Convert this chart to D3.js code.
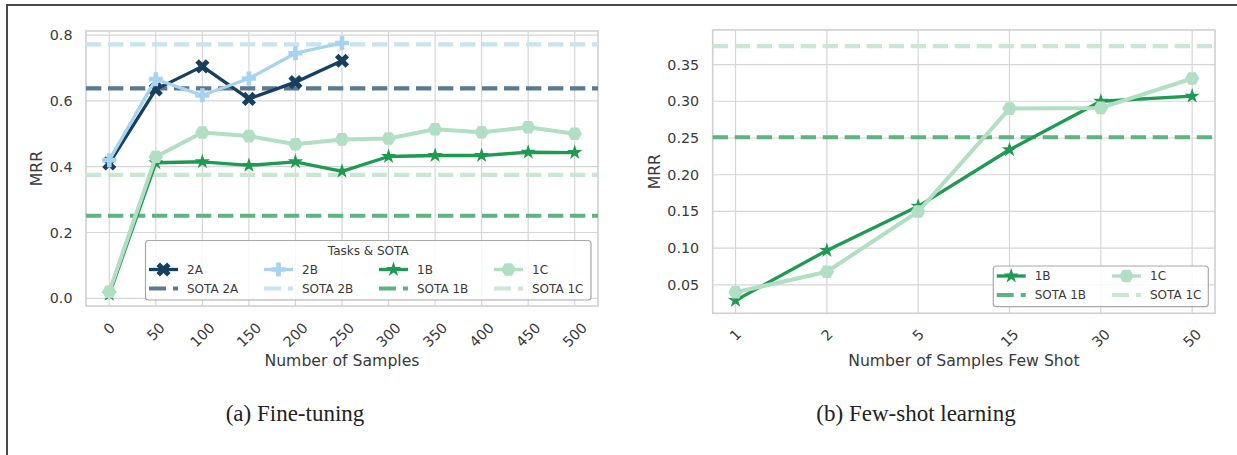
<!DOCTYPE html>
<html>
<head>
<meta charset="utf-8">
<script src="https://cdn.jsdelivr.net/npm/d3@7"></script>
<style>
  body { margin: 0; background: #fff; }
  svg { display: block; font-family: 'DejaVu Sans', sans-serif; }
</style>
</head>
<body>
<svg></svg>
<script>
// fine-tuning panel data
var fineSamples = ['0', '50', '100', '150', '200', '250', '300', '350', '400', '450', '500'];
var ft2A = [0.410, 0.635, 0.705, 0.606, 0.657, 0.722];
var ft2B = [0.420, 0.666, 0.617, 0.668, 0.745, 0.776];
var ft1B = [0.012, 0.412, 0.415, 0.404, 0.415, 0.386, 0.431, 0.434, 0.434, 0.444, 0.443];
var ft1C = [0.020, 0.430, 0.504, 0.493, 0.468, 0.483, 0.486, 0.514, 0.505, 0.520, 0.500];

// few-shot panel data
var fewSamples = ['1', '2', '5', '15', '30', '50'];
var fs1B = [0.029, 0.097, 0.157, 0.234, 0.300, 0.307];
var fs1C = [0.040, 0.068, 0.150, 0.290, 0.291, 0.331];

// state of the art baselines
var sotaTasks = ['2A', '2B', '1B', '1C'];
var sotaValues = [0.638, 0.772, 0.251, 0.375];

var leftTicks = [0.0, 0.2, 0.4, 0.6, 0.8];
var rightTicks = [0.05, 0.10, 0.15, 0.20, 0.25, 0.30, 0.35];

var colors = { '2A': '#173f5f', '2B': '#a8d3f0', '1B': '#1f9a52', '1C': '#b2dfc3' };
var sotaColors = { '2A': '#5b7a91', '2B': '#c8e3f5', '1B': '#5cb483', '1C': '#c8e8d4' };
var markers = { '2A': 'X', '2B': 'P', '1B': 'star', '1C': 'H' };
var markerSize = { '2A': 15, '2B': 14, '1B': 16, '1C': 14.5 };

function sota(task) { return sotaValues[sotaTasks.indexOf(task)]; }

var W = 1237, H = 455;
var svg = d3.select('svg').attr('width', W).attr('height', H);

// figure frame (left + top edge)
svg.append('path')
    .attr('d', 'M7,455 L7,5 L1237,5')
    .attr('fill', 'none')
    .attr('stroke', '#4a4a4a')
    .attr('stroke-width', 2);

function markerPath(type, size) {
  var pts = [];
  var r = size / 2;
  if (type === 'star') {
    for (var i = 0; i < 10; i++) {
      var a = -Math.PI / 2 + i * Math.PI / 5;
      var rr = i % 2 === 0 ? r : r * 0.382;
      pts.push([rr * Math.cos(a), rr * Math.sin(a)]);
    }
  } else if (type === 'H') {
    for (var i = 0; i < 6; i++) {
      var a = i * Math.PI / 3;
      pts.push([r * Math.cos(a), r * Math.sin(a)]);
    }
  } else {
    // filled plus; X is the same shape turned 45deg
    var base = [[-1, -3], [-1, -1], [-3, -1], [-3, 1], [-1, 1], [-1, 3], [1, 3], [1, 1], [3, 1], [3, -1], [1, -1], [1, -3]];
    var rot = type === 'X' ? Math.PI / 4 : 0;
    base.forEach(function(p) {
      var x = p[0] * size / 6, y = p[1] * size / 6;
      pts.push([x * Math.cos(rot) - y * Math.sin(rot), x * Math.sin(rot) + y * Math.cos(rot)]);
    });
  }
  return 'M' + pts.map(function(p) { return p[0].toFixed(2) + ',' + p[1].toFixed(2); }).join('L') + 'Z';
}

function drawPanel(cfg) {
  var g = svg.append('g');
  var x = d3.scalePoint().domain(cfg.cats).range([cfg.x0, cfg.x1]).padding(cfg.pad);
  var y = d3.scaleLinear().domain(cfg.yDomain).range([cfg.y1, cfg.y0]);

  // grid
  g.selectAll('.gx').data(cfg.cats).enter().append('line')
      .attr('x1', d => x(d)).attr('x2', d => x(d))
      .attr('y1', cfg.y0).attr('y2', cfg.y1)
      .attr('stroke', '#d6d6d6').attr('stroke-width', 1.2);
  g.selectAll('.gy').data(cfg.ticks).enter().append('line')
      .attr('x1', cfg.x0).attr('x2', cfg.x1)
      .attr('y1', d => y(d)).attr('y2', d => y(d))
      .attr('stroke', '#d6d6d6').attr('stroke-width', 1.2);

  // frame
  g.append('rect')
      .attr('x', cfg.x0).attr('y', cfg.y0)
      .attr('width', cfg.x1 - cfg.x0).attr('height', cfg.y1 - cfg.y0)
      .attr('fill', 'none').attr('stroke', '#d0d0d0').attr('stroke-width', 1.6);

  // y tick labels
  g.selectAll('.ty').data(cfg.ticks).enter().append('text')
      .attr('x', cfg.x0 - 13.5).attr('y', d => y(d)).attr('dy', '0.35em')
      .attr('text-anchor', 'end')
      .attr('font-size', 14.3).attr('fill', '#3a3a3a')
      .text(d => d3.format(cfg.fmt)(d));

  // x tick labels, rotated 45deg, bbox centred on the tick
  g.selectAll('.tx').data(cfg.cats).enter().append('text')
      .attr('text-anchor', 'middle').attr('dy', '0.35em')
      .attr('font-size', 14.3).attr('fill', '#3a3a3a')
      .text(d => d)
      .each(function(d) {
        var w = this.getComputedTextLength();
        var side = (w + 0.729 * 14.3) / Math.SQRT2;
        d3.select(this).attr('transform',
          'translate(' + x(d) + ',' + (cfg.labelTop + side / 2) + ') rotate(-45)');
      });

  // axis labels
  g.append('text')
      .attr('x', (cfg.x0 + cfg.x1) / 2).attr('y', 365.5)
      .attr('text-anchor', 'middle')
      .attr('font-size', 15.7).attr('fill', '#3a3a3a')
      .text(cfg.xLabel);
  g.append('text')
      .attr('transform', 'translate(' + cfg.yLabelX + ',' + ((cfg.y0 + cfg.y1) / 2) + ') rotate(-90)')
      .attr('text-anchor', 'middle')
      .attr('font-size', 15.7).attr('fill', '#3a3a3a')
      .text('MRR');

  // SOTA baselines
  cfg.series.forEach(function(s) {
    g.append('line')
        .attr('x1', cfg.x0).attr('x2', cfg.x1)
        .attr('y1', y(sota(s.task))).attr('y2', y(sota(s.task)))
        .attr('stroke', sotaColors[s.task]).attr('stroke-width', 4.2)
        .attr('stroke-dasharray', '15.3,6.7');
  });

  // series lines + markers
  var line = d3.line().x(d => x(d.cat)).y(d => y(d.v));
  cfg.series.forEach(function(s) {
    var pts = s.values.map(function(v, i) { return { cat: cfg.cats[i], v: v }; });
    g.append('path')
        .datum(pts)
        .attr('d', line)
        .attr('fill', 'none')
        .attr('stroke', colors[s.task])
        .attr('stroke-width', s.task === '1C' ? 4 : 3.3)
        .attr('stroke-linejoin', 'round');
    g.selectAll(null).data(pts).enter().append('path')
        .attr('d', markerPath(markers[s.task], markerSize[s.task]))
        .attr('transform', d => 'translate(' + x(d.cat) + ',' + y(d.v) + ')')
        .attr('fill', colors[s.task]);
  });

  // legend
  var L = cfg.legend;
  var lg = g.append('g');
  lg.append('rect')
      .attr('x', L.x).attr('y', L.y).attr('width', L.w).attr('height', L.h)
      .attr('rx', 3)
      .attr('fill', '#fff').attr('fill-opacity', 0.85)
      .attr('stroke', '#a8a8a8').attr('stroke-width', 1.2);
  if (L.title) {
    lg.append('text')
        .attr('x', L.x + L.w / 2).attr('y', L.titleY).attr('dy', '0.35em')
        .attr('text-anchor', 'middle').attr('font-size', 12).attr('fill', '#3a3a3a')
        .text(L.title);
  }
  cfg.series.forEach(function(s, i) {
    var hx = L.cols[i];
    // task row
    lg.append('line')
        .attr('x1', hx).attr('x2', hx + 29)
        .attr('y1', L.rows[0]).attr('y2', L.rows[0])
        .attr('stroke', colors[s.task]).attr('stroke-width', 3.3);
    lg.append('path')
        .attr('d', markerPath(markers[s.task], markerSize[s.task]))
        .attr('transform', 'translate(' + (hx + 14.5) + ',' + L.rows[0] + ')')
        .attr('fill', colors[s.task]);
    lg.append('text')
        .attr('x', hx + 38).attr('y', L.rows[0]).attr('dy', '0.35em')
        .attr('font-size', 12).attr('fill', '#3a3a3a')
        .text(s.task);
    // SOTA row
    lg.append('line')
        .attr('x1', hx).attr('x2', hx + 29)
        .attr('y1', L.rows[1]).attr('y2', L.rows[1])
        .attr('stroke', sotaColors[s.task]).attr('stroke-width', 4.2)
        .attr('stroke-dasharray', '17,7');
    lg.append('text')
        .attr('x', hx + 38).attr('y', L.rows[1]).attr('dy', '0.35em')
        .attr('font-size', 12).attr('fill', '#3a3a3a')
        .text('SOTA ' + s.task);
  });

  // caption
  svg.append('text')
      .attr('x', cfg.capX).attr('y', 421)
      .attr('text-anchor', 'middle')
      .attr('font-family', "'Liberation Serif', serif")
      .attr('font-size', 23).attr('fill', '#222')
      .text(cfg.caption);
}

drawPanel({
  x0: 86, x1: 598, y0: 31, y1: 306, pad: 0.5,
  cats: fineSamples,
  yDomain: [-0.0234, 0.8125], ticks: leftTicks, fmt: '.1f',
  labelTop: 321.5, yLabelX: 41.5,
  xLabel: 'Number of Samples',
  series: [
    { task: '2A', values: ft2A },
    { task: '2B', values: ft2B },
    { task: '1B', values: ft1B },
    { task: '1C', values: ft1C }
  ],
  legend: { x: 145.5, y: 240.5, w: 445.5, h: 59.5, title: 'Tasks & SOTA', titleY: 251,
            rows: [269.5, 288.5], cols: [149, 264, 379, 494] },
  capX: 295, caption: '(a) Fine-tuning'
});

drawPanel({
  x0: 712.7, x1: 1215, y0: 30, y1: 313.3, pad: 0.25,
  cats: fewSamples,
  yDomain: [0.0114, 0.397], ticks: rightTicks, fmt: '.2f',
  labelTop: 328, yLabelX: 660,
  xLabel: 'Number of Samples Few Shot',
  series: [
    { task: '1B', values: fs1B },
    { task: '1C', values: fs1C }
  ],
  legend: { x: 993.3, y: 266, w: 215, h: 40.7,
            rows: [276, 295], cols: [996.7, 1112] },
  capX: 916, caption: '(b) Few-shot learning'
});
</script>
</body>
</html>
